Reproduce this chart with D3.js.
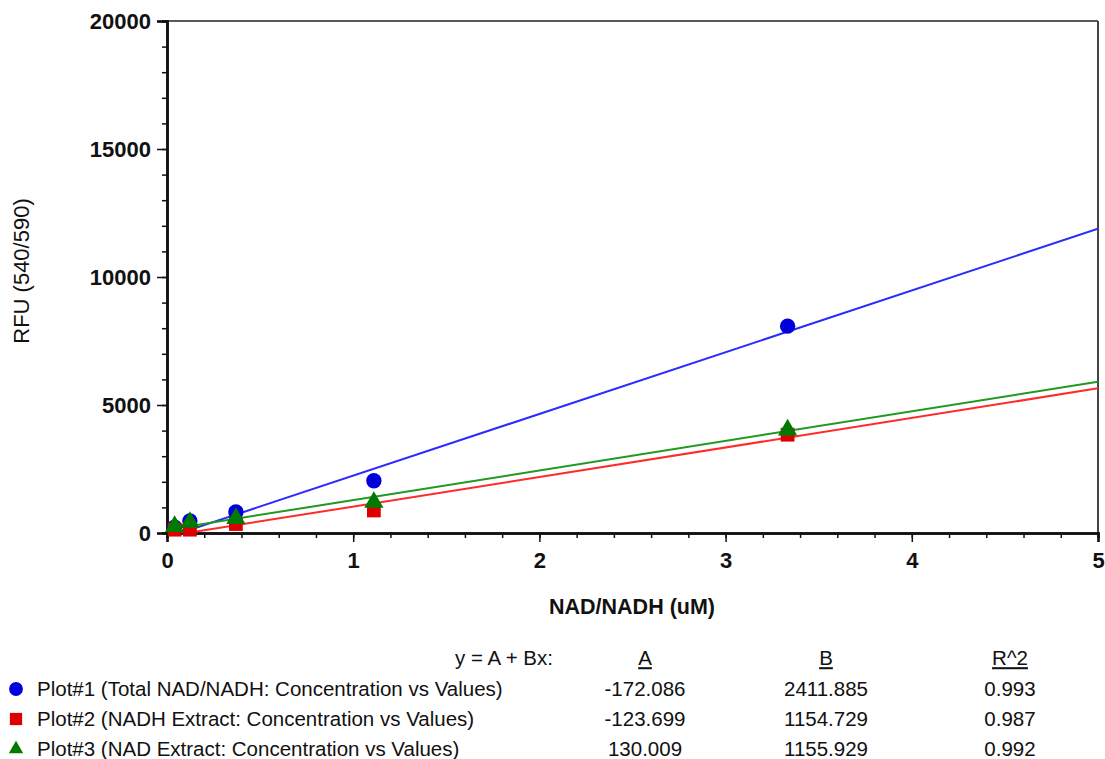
<!DOCTYPE html>
<html><head><meta charset="utf-8">
<script src="https://cdn.jsdelivr.net/npm/d3@7"></script>
<style>
body{margin:0;background:#fff;}
text{font-family:"Liberation Sans",Arial,sans-serif;}
</style></head>
<body>
<svg id="c" width="1105" height="759"></svg>
<script>
// ---- data ----
const concentrations = [0.041, 0.123, 0.370, 1.111, 3.333];
const plot1Values = [230, 470, 820, 2040, 8080];   // Total NAD/NADH
const plot2Values = [130, 130, 350, 880, 3840];    // NADH Extract
const plot3Values = [260, 420, 570, 1200, 4030];   // NAD Extract
const seriesNames = [
  "Plot#1 (Total NAD/NADH: Concentration vs Values)",
  "Plot#2 (NADH Extract: Concentration vs Values)",
  "Plot#3 (NAD Extract: Concentration vs Values)"
];
const fitA = [-172.086, -123.699, 130.009];
const fitB = [2411.885, 1154.729, 1155.929];
const fitR2 = [0.993, 0.987, 0.992];
const fitAText = ["-172.086", "-123.699", "130.009"];
const fitBText = ["2411.885", "1154.729", "1155.929"];
const fitR2Text = ["0.993", "0.987", "0.992"];
const xTicks = [0, 1, 2, 3, 4, 5];
const yTicks = [0, 5000, 10000, 15000, 20000];

// ---- styles ----
const markerColors = ["#0000dd", "#dd0000", "#007a00"];
const lineColors = ["#2b2bff", "#ff2b2b", "#1f9a1f"];
const shapes = [d3.symbolCircle, d3.symbolSquare, d3.symbolTriangle];

const svg = d3.select("#c");
const L = 167, T = 21, R = 1098, B = 533;
const x = d3.scaleLinear().domain([0, 5]).range([L, R]);
const y = d3.scaleLinear().domain([0, 20000]).range([B, T]);

svg.append("defs").append("clipPath").attr("id", "clip")
  .append("rect").attr("x", L).attr("y", T).attr("width", R - L).attr("height", B - T);

// frame (top + right)
svg.append("line").attr("x1", L).attr("x2", R).attr("y1", T).attr("y2", T)
  .attr("stroke", "#222").attr("stroke-width", 1.5);
svg.append("line").attr("x1", R).attr("x2", R).attr("y1", T).attr("y2", B)
  .attr("stroke", "#444").attr("stroke-width", 2);

// ticks
const xMinor = d3.range(0, 5.0001, 0.2);
const yMinor = d3.range(0, 20001, 1000);
const gx = svg.append("g").attr("transform", `translate(0,${B})`);
gx.call(d3.axisBottom(x).tickValues(xMinor).tickSize(5).tickFormat(""));
const gx2 = svg.append("g").attr("transform", `translate(0,${B})`);
gx2.call(d3.axisBottom(x).tickValues(xTicks).tickSize(9).tickPadding(10).tickFormat(d3.format("d")));
const gy = svg.append("g").attr("transform", `translate(${L},0)`);
gy.call(d3.axisLeft(y).tickValues(yMinor).tickSize(5).tickFormat(""));
const gy2 = svg.append("g").attr("transform", `translate(${L},0)`);
gy2.call(d3.axisLeft(y).tickValues(yTicks).tickSize(10).tickPadding(6).tickFormat(d3.format("d")));
[gx, gx2, gy, gy2].forEach(g => {
  g.selectAll(".domain").attr("stroke", "#111").attr("stroke-width", 2.5);
  g.selectAll(".tick line").attr("stroke", "#111").attr("stroke-width", 1.5);
  g.selectAll(".tick text").attr("fill", "#111").attr("font-size", 22).attr("font-weight", "bold")
    .attr("font-family", "'Liberation Sans',Arial,sans-serif");
});
gy2.selectAll(".tick text").attr("dy", "0.36em");

// axis titles
svg.append("text").attr("x", 632).attr("y", 614).attr("text-anchor", "middle")
  .attr("font-size", 21.5).attr("font-weight", "bold").attr("fill", "#111").text("NAD/NADH (uM)");
svg.append("text").attr("transform", "translate(29,271) rotate(-90)").attr("text-anchor", "middle")
  .attr("font-size", 22).attr("fill", "#111").text("RFU (540/590)");

// fit lines
const plotArea = svg.append("g").attr("clip-path", "url(#clip)");
fitA.forEach((a, i) => {
  const pts = [0, 5].map(v => [v, a + fitB[i] * v]);
  plotArea.append("path").datum(pts)
    .attr("d", d3.line().x(d => x(d[0])).y(d => y(d[1])))
    .attr("fill", "none").attr("stroke", lineColors[i]).attr("stroke-width", 2);
});

// points
const allValues = [plot1Values, plot2Values, plot3Values];
const sizes = [185, 190, 160];
allValues.forEach((vals, i) => {
  svg.append("g").selectAll("path").data(vals).join("path")
    .attr("transform", (d, j) => `translate(${x(concentrations[j])},${y(d)})`)
    .attr("d", d3.symbol().type(shapes[i]).size(sizes[i]))
    .attr("fill", markerColors[i]);
});

// legend table
const rowY = [689, 719, 749];
const fs = 20.5;
svg.append("text").attr("x", 553).attr("y", 658).attr("dy", "0.35em").attr("text-anchor", "end")
  .attr("font-size", fs).attr("fill", "#111").text("y = A + Bx:");
const colX = [645, 826, 1010];
["A", "B", "R^2"].forEach((h, k) => {
  svg.append("text").attr("x", colX[k]).attr("y", 658).attr("dy", "0.35em").attr("text-anchor", "middle")
    .attr("font-size", fs).attr("fill", "#111").attr("text-decoration", "underline").text(h);
});
seriesNames.forEach((name, i) => {
  svg.append("path").attr("transform", `translate(16,${rowY[i]})`)
    .attr("d", d3.symbol().type(shapes[i]).size(i === 2 ? 90 : 150)).attr("fill", markerColors[i]);
  svg.append("text").attr("x", 37).attr("y", rowY[i]).attr("dy", "0.35em")
    .attr("font-size", fs).attr("fill", "#111").text(name);
  [fitAText[i], fitBText[i], fitR2Text[i]].forEach((t, k) => {
    svg.append("text").attr("x", colX[k]).attr("y", rowY[i]).attr("dy", "0.35em").attr("text-anchor", "middle")
      .attr("font-size", fs).attr("fill", "#111").text(t);
  });
});
</script>
</body></html>
